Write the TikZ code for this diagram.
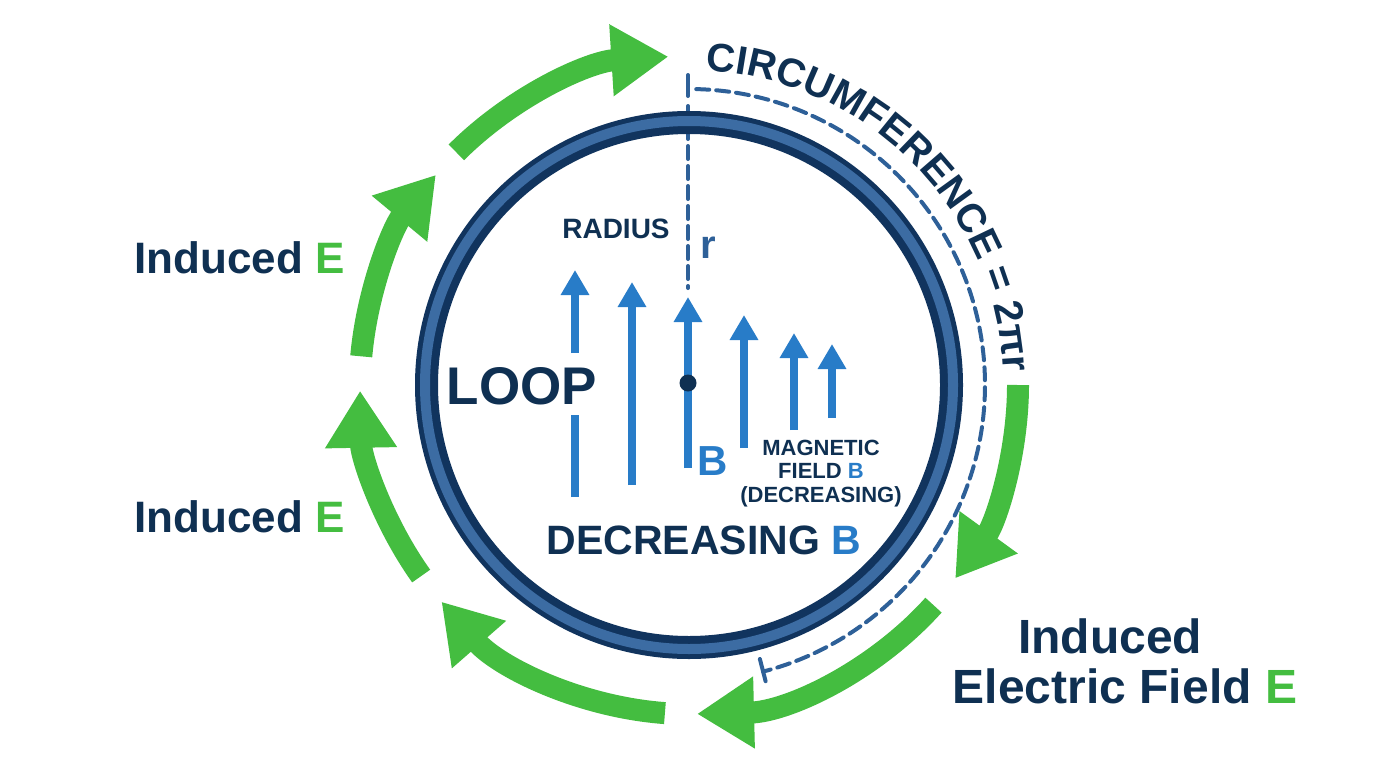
\documentclass[tikz,border=0pt]{standalone}
\usepackage{fontspec}
\setmainfont{Liberation Sans}
\usetikzlibrary{arrows.meta,decorations.text,calc}
\definecolor{navy}{RGB}{15,48,82}
\definecolor{egreen}{RGB}{68,189,64}
\definecolor{fblue}{RGB}{40,124,200}
\definecolor{ringdark}{RGB}{17,52,94}
\definecolor{ringmid}{RGB}{60,108,163}
\definecolor{dashblue}{RGB}{46,96,152}
\newcommand{\myfs}[1]{\fontsize{#1}{#1}\selectfont\bfseries}
\begin{document}
\begin{tikzpicture}[x=0.5pt,y=0.5pt,
  lbl/.style={inner sep=0pt, text=navy},
  efield/.style={line width=11pt, draw=egreen, -{Triangle[length=28.5pt,width=34pt]}},
  bfield/.style={line width=4pt, draw=fblue, -{Triangle[length=12.5pt,width=13.5pt]}},
  bline/.style={line width=4pt, draw=fblue},
  dashln/.style={line width=2pt, draw=dashblue, dash pattern=on 6.5pt off 3.5pt, line cap=round},
  tickln/.style={line width=2pt, draw=dashblue, line cap=round},
]
\useasboundingbox[fill=white] (0,0) rectangle (1376,768);
\coordinate (C) at (689,383);

% radius line and circumference arc (dashed)
\coordinate (rt1) at (688,693);
\coordinate (rt2) at (688,672);
\coordinate (rd1) at (688,662);
\coordinate (rd2) at (688,480);
\draw[tickln] (rt1) -- (rt2);
\draw[dashln] (rd1) -- (rd2);
\draw[dashln] ([shift={(88.6:296)}]C) arc[start angle=88.6, end angle=-75.5, radius=296];
\coordinate (et1) at ([shift={(-75.5:283)}]C);
\coordinate (et2) at ([shift={(-75.5:306)}]C);
\draw[tickln] (et1) -- (et2);

% loop ring
\draw[ringdark, line width=11.5pt] (C) circle[radius=262.5];
\draw[ringmid, line width=5pt] (C) circle[radius=264];

% induced E arrows
\foreach \a/\b in {135/93.6, 175/140.3, 215.5/181, 265.8/221.2, 318/271.4, 360/324}
  \draw[efield] ([shift={(\a:329)}]C) arc[start angle=\a, end angle=\b, radius=329];

% magnetic field arrows
\coordinate (a1) at (575,271); \coordinate (a2) at (575,353);
\coordinate (a3) at (575,415); \coordinate (a4) at (575,498);
\coordinate (b1) at (632,283); \coordinate (b2) at (632,486);
\coordinate (c1) at (688,300); \coordinate (c2) at (688,471);
\coordinate (d1) at (744,320); \coordinate (d2) at (744,453);
\coordinate (e1) at (794,338); \coordinate (e2) at (794,435);
\coordinate (f1) at (832,350); \coordinate (f2) at (832,424);
\draw[bline] (a1) -- (a2);
\draw[bfield] (a3) -- (a4);
\draw[bfield] (b1) -- (b2);
\draw[bfield] (c1) -- (c2);
\draw[bfield] (d1) -- (d2);
\draw[bfield] (e1) -- (e2);
\draw[bfield] (f1) -- (f2);
\node[circle, fill=navy, inner sep=0pt, minimum size=8.5pt] (dot) at (688,385) {};

% circumference label
\path[decorate, decoration={text along path,
    text={|\myfs{20pt}|CIRCUMFERENCE = 2πr}, text align=left, text color=navy}]
  ([shift={(87:315)}]C) arc[start angle=87, end angle=0, radius=315];

% labels
\node[lbl, anchor=base west, font=\myfs{22pt}] (ie1) at (134,495) {Induced \textcolor{egreen}{E}};
\node[lbl, anchor=base west, font=\myfs{22pt}] (ie2) at (134,236) {Induced \textcolor{egreen}{E}};
\node[lbl, anchor=base, font=\myfs{24pt}] (ief1) at (1110,115) {Induced};
\node[lbl, anchor=base, font=\myfs{24pt}] (ief2) at (1125,65) {Electric Field \textcolor{egreen}{E}};
\node[lbl, anchor=base, font=\myfs{14pt}] (rad) at (616,530) {RADIUS};
\node[lbl, anchor=base west, font=\myfs{20pt}, text=dashblue] (rr) at (700,510) {r};
\node[lbl, anchor=base, font=\myfs{26.5pt}] (loop) at (522,364) {LOOP};
\node[lbl, anchor=base, font=\myfs{21pt}, text=fblue] (bb) at (713,293) {B};
\node[lbl, anchor=base, font=\myfs{11pt}] (mag1) at (821,313) {MAGNETIC};
\node[lbl, anchor=base, font=\myfs{11pt}] (mag2) at (821,290) {FIELD \textcolor{fblue}{B}};
\node[lbl, anchor=base, font=\myfs{11pt}] (mag3) at (821,266) {(DECREASING)};
\node[lbl, anchor=base, font=\myfs{20.5pt}] (decb) at (704,214) {DECREASING \textcolor{fblue}{B}};
\end{tikzpicture}
\end{document}
